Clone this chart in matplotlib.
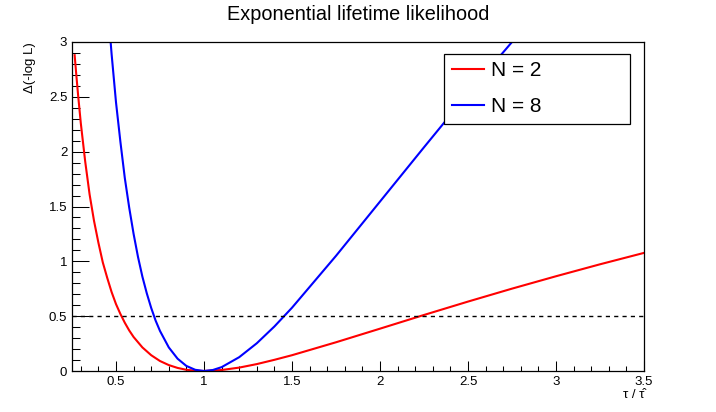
import matplotlib
matplotlib.use("Agg")
import matplotlib.pyplot as plt
from matplotlib.ticker import MultipleLocator

plt.rcParams['font.family'] = ['Liberation Sans', 'DejaVu Sans']

# Data
x_n2 = [0.265, 0.275, 0.285, 0.30, 0.325, 0.35, 0.375, 0.40, 0.425, 0.45, 0.475, 0.50,
        0.525, 0.55, 0.575, 0.60, 0.65, 0.70, 0.75, 0.80, 0.85, 0.90, 0.95, 1.00,
        1.10, 1.20, 1.30, 1.40, 1.50, 1.75, 2.00, 2.25, 2.50, 2.75, 3.00, 3.25, 3.50]
y_n2 = [2.88, 2.69, 2.51, 2.26, 1.91, 1.61, 1.37, 1.17, 0.99, 0.85, 0.72, 0.61,
        0.52, 0.44, 0.37, 0.31, 0.215, 0.144, 0.091, 0.054, 0.028, 0.011, 0.003, 0.0,
        0.009, 0.031, 0.063, 0.102, 0.144, 0.262, 0.386, 0.511, 0.633, 0.751, 0.864, 0.973, 1.077]

x_n8 = [0.45, 0.475, 0.50, 0.525, 0.55, 0.575, 0.60, 0.625, 0.65, 0.675, 0.70, 0.725,
        0.75, 0.80, 0.85, 0.90, 0.95, 1.00, 1.05, 1.10, 1.20, 1.30, 1.40, 1.50,
        1.75, 2.00, 2.25, 2.50, 2.75, 3.00]
y_n8 = [3.39, 2.89, 2.45, 2.09, 1.76, 1.49, 1.25, 1.04, 0.86, 0.708, 0.575, 0.46,
        0.365, 0.215, 0.112, 0.046, 0.011, 0.0, 0.009, 0.035, 0.126, 0.253, 0.406, 0.577,
        1.05, 1.545, 2.04, 2.53, 3.00, 3.46]

labels = ["N = 2", "N = 8"]
colors = ["#ff0000", "#0000ff"]
ref_level = 0.5

W, H = 716, 412
L, R, T, B = 72, 644, 42, 371
fig = plt.figure(figsize=(W / 100, H / 100), dpi=100)
ax = fig.add_axes([L / W, (H - B) / H, (R - L) / W, (B - T) / H])

ax.plot(x_n2, y_n2, color=colors[0], lw=1.5, label=labels[0])
ax.plot(x_n8, y_n8, color=colors[1], lw=1.5, label=labels[1])
ax.axhline(ref_level, color='black', lw=1.0, ls=(0, (3, 3)))

ax.set_xlim(0.25, 3.5)
ax.set_ylim(0, 3)

ax.xaxis.set_major_locator(MultipleLocator(0.5))
ax.xaxis.set_minor_locator(MultipleLocator(0.1))
ax.yaxis.set_major_locator(MultipleLocator(0.5))
ax.yaxis.set_minor_locator(MultipleLocator(0.1))
ax.xaxis.set_major_formatter(plt.FuncFormatter(lambda v, p: f"{v:g}"))
ax.yaxis.set_major_formatter(plt.FuncFormatter(lambda v, p: f"{v:g}"))

ax.tick_params(axis='x', which='major', direction='in', length=7.2, width=0.75,
               labelsize=9.5, pad=3.5, top=False)
ax.tick_params(axis='x', which='minor', direction='in', length=3.6, width=0.75, top=False)
ax.tick_params(axis='y', which='major', direction='in', length=12.2, width=0.75,
               labelsize=9.5, pad=3.4, right=False)
ax.tick_params(axis='y', which='minor', direction='in', length=6, width=0.75, right=False)
for s in ax.spines.values():
    s.set_linewidth(0.9)

fig.text(358 / W, 1 - 14 / H, "Exponential lifetime likelihood", ha='center', va='center',
         fontsize=14.3)
fig.text(30 / W, 1 - T / H, "Δ(-log L)", rotation=90, ha='center', va='top', fontsize=9.5)
fig.text(R / W, 1 - 401 / H, "τ / τ\u0302", ha='right', va='bottom', fontsize=9.5)

aw, ah = R - L, B - T
leg = ax.legend(loc='upper left',
                bbox_to_anchor=((444 - L) / aw, (B - 124) / ah, (630 - 444) / aw, (124 - 54) / ah),
                mode='expand', fontsize=15, frameon=True, fancybox=False, framealpha=1,
                borderaxespad=0, handlelength=1.54, handletextpad=0.34, labelspacing=0.8,
                borderpad=0.36)
leg.get_frame().set_edgecolor('black')
leg.get_frame().set_linewidth(0.9)

fig.savefig("out.png", dpi=100)
